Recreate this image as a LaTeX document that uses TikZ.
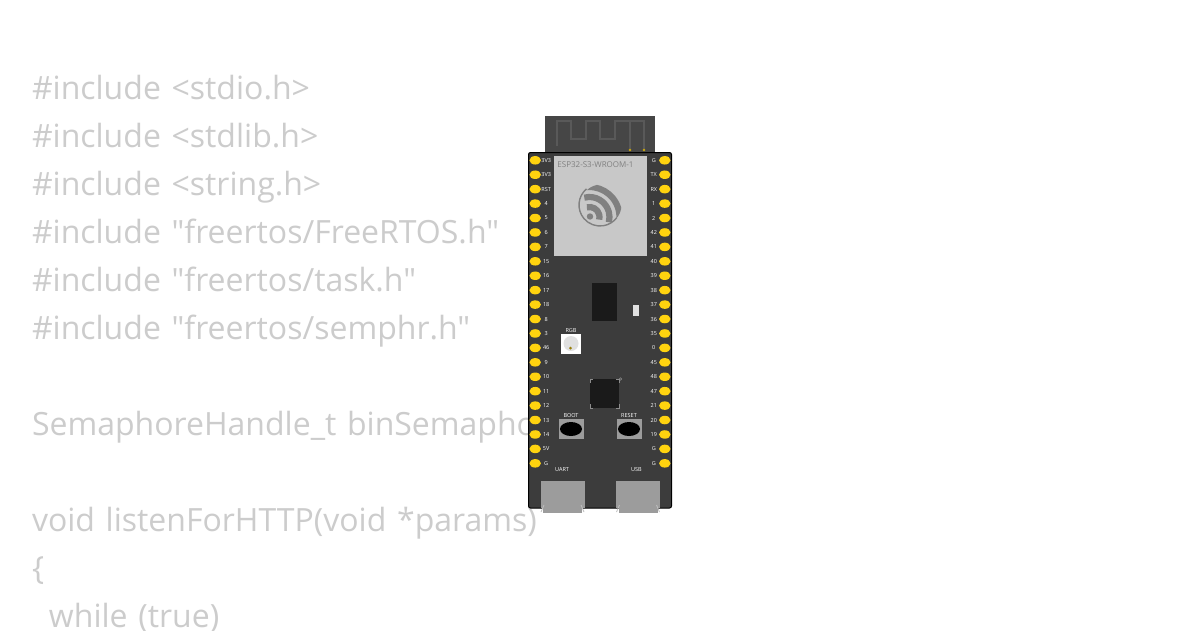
\documentclass[tikz,border=0pt]{standalone}
\usepackage{fontspec}
\setmainfont{Open Sans}
\newfontfamily\codefont{Open Sans}
\usepackage{tikz}
\usetikzlibrary{positioning,calc,shapes.geometric}

\definecolor{codegray}{HTML}{CCCCCC}
\definecolor{boardgray}{HTML}{3C3C3C}
\definecolor{pinyellow}{HTML}{FFD30F}
\definecolor{modulegray}{HTML}{C8C8C8}
\definecolor{logogray}{HTML}{808080}
\definecolor{chipblack}{HTML}{1A1A1A}
\definecolor{portgray}{HTML}{9C9C9C}

\tikzset{
  codeline/.style={text=codegray,font=\codefont\fontsize{32}{48}\selectfont,text width=560pt,
    inner sep=0pt,outer sep=0pt,text height=32pt,text depth=16pt,align=left},
  pinpad/.style={ellipse,fill=pinyellow,inner sep=0pt,minimum width=11.5pt,minimum height=8.5pt},
  pinlabel/.style={text=white,font=\fontsize{5.5}{6}\selectfont,inner sep=0pt},
  silk/.style={text=white,font=\fontsize{5.5}{6}\selectfont,inner sep=0pt},
  chip/.style={fill=chipblack,inner sep=0pt},
  port/.style={fill=portgray,inner sep=0pt,outer sep=0pt,minimum width=44pt,minimum height=27pt},
  portlip/.style={fill=portgray,inner sep=0pt,outer sep=0pt,minimum width=39pt,minimum height=5pt},
  knob/.style={ellipse,fill=black,inner sep=0pt,minimum width=22pt,minimum height=14pt},
  btnbody/.style={fill=portgray,inner sep=0pt,minimum width=25pt,minimum height=20pt},
  trace/.style={white!35!black,line width=2.2pt},
  lead/.style={white!55!black,line width=.5pt},
  tick/.style={white!75!black,line width=.8pt},
}

\begin{document}
\begin{tikzpicture}[x=1pt,y=-1pt,node distance=0pt]

  \useasboundingbox[fill=white] (0,0) rectangle (1200,630);

  % code behind the board
  \node[codeline] (inc1) [anchor=north west] at (32,67) {\#include <stdio.h>};
  \node[codeline] (inc2) [below=of inc1] {\#include <stdlib.h>};
  \node[codeline] (inc3) [below=of inc2] {\#include <string.h>};
  \node[codeline] (inc4) [below=of inc3] {\#include "freertos/FreeRTOS.h"};
  \node[codeline] (inc5) [below=of inc4] {\#include "freertos/task.h"};
  \node[codeline] (inc6) [below=of inc5] {\#include "freertos/semphr.h"};
  \node[codeline] (sema) [below=48pt of inc6] {SemaphoreHandle\_t binSemapho};
  \node[codeline] (func) [below=48pt of sema] {void listenForHTTP(void *params)};
  \node[codeline] (open) [below=of func] {\{};
  \node[codeline] (loop) [below=of open] {\hspace*{17pt}while (true)};

  % antenna
  \fill[boardgray!95!white] (545,116) rectangle (655,153);
  \draw[trace] (557,146) -- (557,121) -- (571,121) -- (571,139) -- (586,139)
    -- (586,121) -- (600,121) -- (600,139) -- (615,139) -- (615,121) -- (644,121) -- (644,150);
  \draw[trace] (630,121) -- (630,150);
  \fill[pinyellow!80!black] (630,150) circle (1.4) (644,150) circle (1.4);

  % board and module
  \draw[fill=boardgray,draw=black,line width=1pt,rounded corners=2pt] (528.5,152.5) rectangle (671.5,508);
  \fill[modulegray] (554,156) rectangle (647,255.5);
  \node[] (modname) at (595.5,164.5) [text=logogray,font=\fontsize{8}{10}\selectfont,inner sep=0pt] {ESP32-S3-WROOM-1};

  % logo
  \begin{scope}
    \clip (601,205) circle (20.5);
    \foreach \r in {10,20,30}
      \draw[logogray,line width=6.2pt] (589.5,217) ++(105:\r pt) arc[start angle=105,end angle=-15,radius=\r pt];
  \end{scope}
  \fill[logogray] (590,216.5) circle (3.2);
  \draw[logogray,line width=1.4pt] (600,205) ++(130:21pt) arc[start angle=130,end angle=323,radius=21pt];

  % pins
  \foreach \lab [count=\i] in {3V3,3V3,RST,4,5,6,7,15,16,17,18,8,3,46,9,10,11,12,13,14,5V,G}
  {
    \node[pinpad] (lp\i) at (535.2,{160.3+14.43*(\i-1)}) {};
    \node[pinlabel] (ll\i) at ($(lp\i)+(11,0)$) {\lab};
  }
  \foreach \lab [count=\i] in {G,TX,RX,1,2,42,41,40,39,38,37,36,35,0,45,48,47,21,20,19,G,G}
  {
    \node[pinpad] (rp\i) at (664.8,{160.3+14.43*(\i-1)}) {};
    \node[pinlabel] (rl\i) at ($(rp\i)+(-11,0)$) {\lab};
  }

  % parts on the board
  \node[chip,minimum width=25pt,minimum height=38pt] (flash) at (604.5,302) {};
  \node[fill=white!88!black,inner sep=0pt,minimum width=6pt,minimum height=11pt] (led) at (636,310.5) {};

  \node[fill=white,inner sep=0pt,minimum size=20pt] (rgb) at (571,343.5) {};
  \node[circle,fill=white!88!black,inner sep=0pt,minimum size=15pt] (rgbdome) at (rgb) {};
  \node[circle,fill=pinyellow!60!black,inner sep=0pt,minimum size=3pt] (rgbdot) at (570.5,348) {};
  \node[silk] (rgblabel) [above=1pt of rgb] {RGB};

  \node[chip,minimum size=29pt] (mcu) at (604.5,393.5) {};
  \draw[lead] (590,383) -- (590,379) -- (593,379);
  \draw[lead] (616,379) -- (619,379) -- (619,383);
  \draw[lead] (590,404) -- (590,408) -- (593,408);
  \draw[lead] (616,408) -- (619,408) -- (619,404);
  \draw[lead] (620.5,379) circle (1.2);

  \node[btnbody] (boot) at (571,429) {};
  \node[knob] (bootknob) at (boot) {};
  \node[silk] (bootlabel) [above=1pt of boot] {BOOT};
  \node[btnbody] (reset) at (629,429) {};
  \node[knob] (resetknob) at (reset) {};
  \node[silk] (resetlabel) [above=1pt of reset] {RESET};

  \node[port] (uart) at (562.5,494.5) {};
  \node[portlip] (uartlip) [below=of uart] {};
  \node[port] (usb) at (638,494.5) {};
  \node[portlip] (usblip) [below=of usb] {};
  \draw[tick] (544,505) -- (541,512);
  \draw[tick] (581,505) -- (584,512);
  \draw[tick] (619.5,505) -- (616.5,512);
  \draw[tick] (656.5,505) -- (659.5,512);
  \node[silk] (uartlabel) at (562,470) {UART};
  \node[silk] (usblabel) at (636.5,470) {USB};

\end{tikzpicture}
\end{document}
